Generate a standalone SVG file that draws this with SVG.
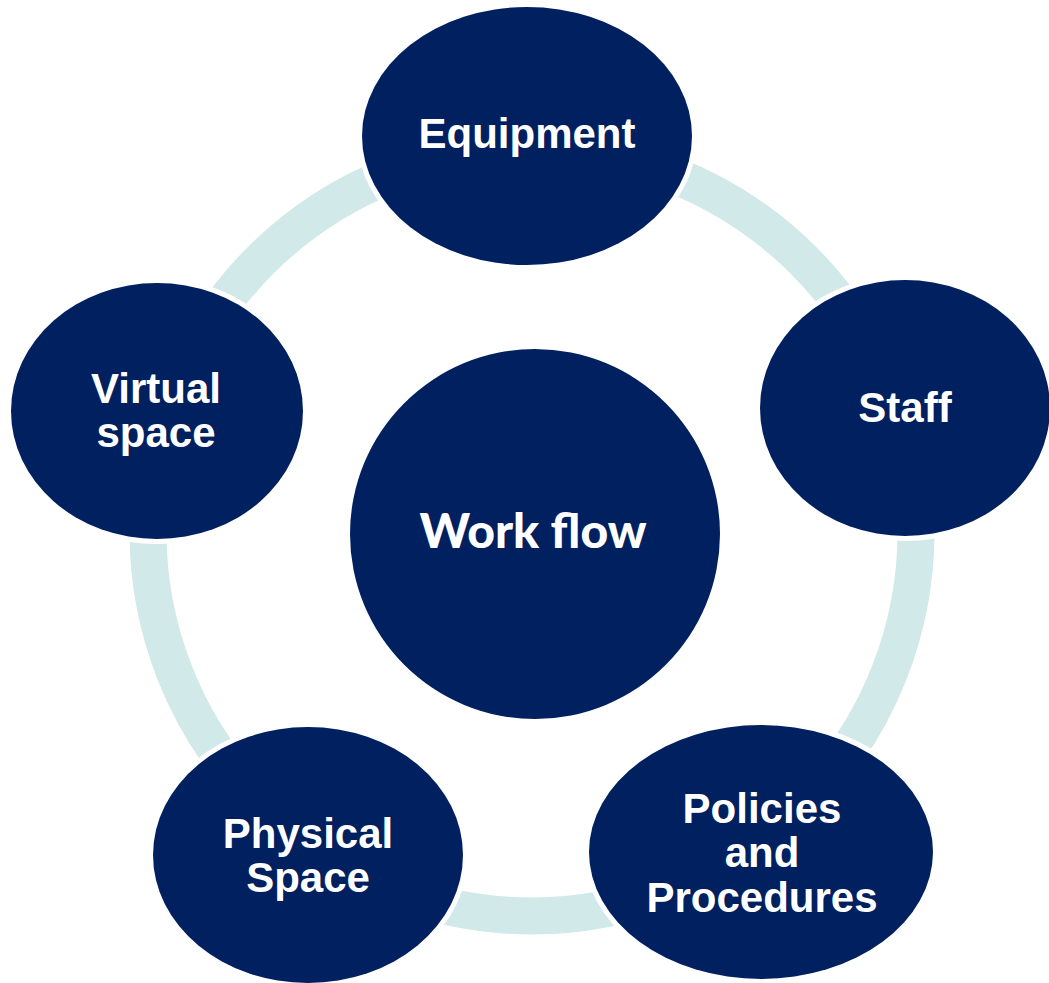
<svg xmlns="http://www.w3.org/2000/svg" width="1049" height="983" viewBox="0 0 1049 983">
  <style>
    .node { fill: #002060; stroke: #ffffff; stroke-width: 10; paint-order: stroke; }
    .lbl { font-family: "Liberation Sans", Arial, sans-serif; font-weight: bold; font-size: 42px; fill: #ffffff; text-anchor: middle; }
    .center-lbl { font-family: Lato, "Liberation Sans", sans-serif; font-weight: 900; font-size: 48px; fill: #ffffff; text-anchor: middle; }
    .ring { fill: none; stroke: #D2E9E9; stroke-width: 37; }
  </style>
  <rect width="1049" height="983" fill="#ffffff"/>
  <g id="connectors">
    <circle class="ring" cx="532" cy="532" r="384"/>
  </g>
  <g id="node-workflow">
    <circle class="node" cx="535" cy="534" r="185"/>
    <text class="center-lbl" x="533" y="548">Work flow</text>
  </g>
  <g id="node-equipment">
    <ellipse class="node" cx="527" cy="136" rx="165" ry="129"/>
    <text class="lbl" x="527" y="148">Equipment</text>
  </g>
  <g id="node-staff">
    <ellipse class="node" cx="905" cy="408" rx="145" ry="128"/>
    <text class="lbl" x="905" y="422">Staff</text>
  </g>
  <g id="node-policies">
    <ellipse class="node" cx="761" cy="852" rx="172" ry="127"/>
    <text class="lbl" x="762" y="823">Policies</text>
    <text class="lbl" x="762" y="867">and</text>
    <text class="lbl" x="762" y="912">Procedures</text>
  </g>
  <g id="node-physical">
    <ellipse class="node" cx="308" cy="855" rx="155" ry="128"/>
    <text class="lbl" x="308" y="848">Physical</text>
    <text class="lbl" x="308" y="892">Space</text>
  </g>
  <g id="node-virtual">
    <ellipse class="node" cx="157" cy="411" rx="146" ry="128"/>
    <text class="lbl" x="156" y="403">Virtual</text>
    <text class="lbl" x="156" y="447">space</text>
  </g>
</svg>
